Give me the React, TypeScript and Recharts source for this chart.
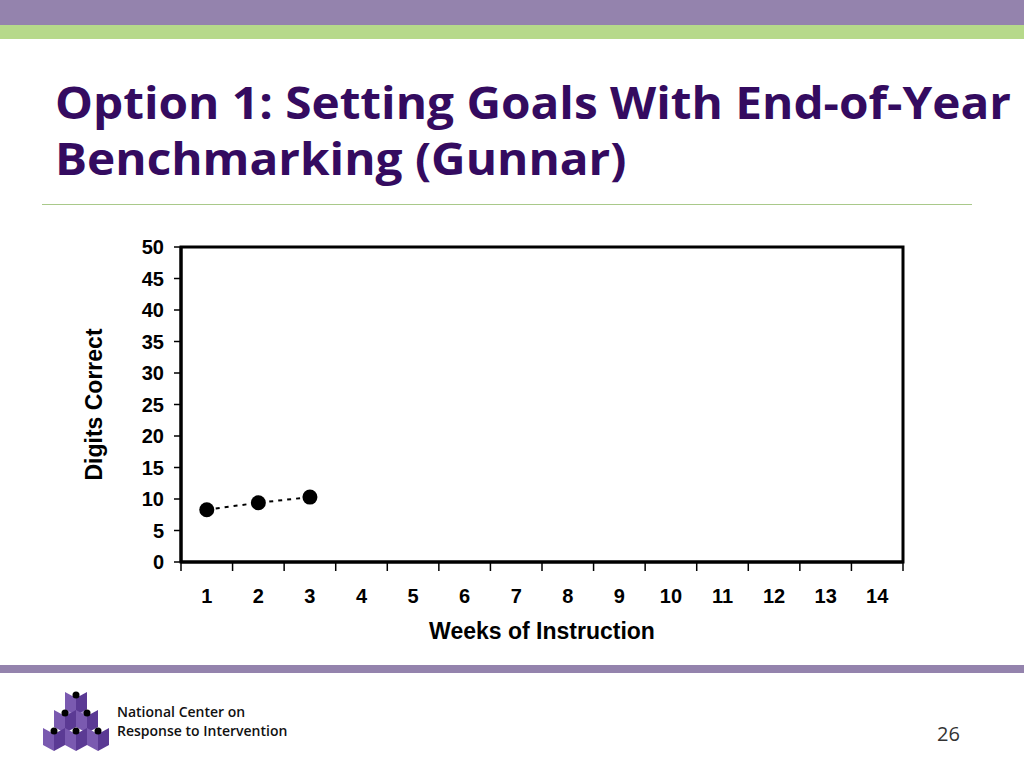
import React from "react";
import {
  LineChart,
  Line,
  XAxis,
  YAxis,
  ReferenceArea,
} from "recharts";

const weeks = [1, 2, 3, 4, 5, 6, 7, 8, 9, 10, 11, 12, 13, 14];
const digitsCorrect = [8.3, 9.4, 10.3];
const yTicks = [0, 5, 10, 15, 20, 25, 30, 35, 40, 45, 50];

const chartData = weeks.map((week, i) => ({
  week,
  digits: i < digitsCorrect.length ? digitsCorrect[i] : null,
}));

// tick marks sit between weeks, labels sit on the weeks
const xTicks = [
  ...weeks.map((w) => w - 0.5),
  ...weeks,
  weeks[weeks.length - 1] + 0.5,
].sort((a, b) => a - b);

const tickFont = "'Liberation Sans', Arial, sans-serif";

const WeekTick = ({ x, y, payload }: any) => {
  const v = payload.value as number;
  if (v % 1 !== 0) {
    return <line x1={x} x2={x} y1={y - 8} y2={y + 1} stroke="#000" strokeWidth={1.5} />;
  }
  return (
    <text
      x={x}
      y={y + 33}
      textAnchor="middle"
      fontFamily={tickFont}
      fontWeight="bold"
      fontSize={20}
      fill="#000"
    >
      {v}
    </text>
  );
};

const Logo = () => {
  const cube = (cx: number, cy: number, key: string) => (
    <g key={key}>
      <polygon
        points={`${cx - 11},${cy - 6} ${cx},${cy} ${cx},${cy + 17} ${cx - 11},${cy + 11}`}
        fill="#7a5ab0"
      />
      <polygon
        points={`${cx + 11},${cy - 6} ${cx},${cy} ${cx},${cy + 17} ${cx + 11},${cy + 11}`}
        fill="#5b3a94"
      />
      <circle cx={cx} cy={cy - 3} r={3.5} fill="#000" />
    </g>
  );
  return (
    <svg width={80} height={70} style={{ position: "absolute", left: 36, top: 688 }}>
      <polygon points="29,12 40,6 51,12 51,24 40,30 29,24" fill="#a48ccc" />
      {cube(40, 10, "a")}
      {cube(29, 28, "b")}
      {cube(51, 28, "c")}
      {cube(18, 46, "d")}
      {cube(40, 46, "e")}
      {cube(62, 46, "f")}
    </svg>
  );
};

export default function App() {
  return (
    <div
      style={{
        position: "absolute",
        left: 0,
        top: 0,
        width: 1024,
        height: 768,
        background: "#fff",
        overflow: "hidden",
      }}
    >
      <div style={{ position: "absolute", left: 0, top: 0, width: 1024, height: 25, background: "#9483ad" }} />
      <div style={{ position: "absolute", left: 0, top: 25, width: 1024, height: 14, background: "#b6d98a" }} />

      <div
        style={{
          position: "absolute",
          left: 55,
          top: 74,
          fontFamily: "'Open Sans', 'Noto Sans', sans-serif",
          fontWeight: 700,
          fontSize: 44,
          lineHeight: "56px",
          color: "#340b60",
          whiteSpace: "nowrap",
          transform: "scaleX(1.085)",
          transformOrigin: "left top",
        }}
      >
        Option 1: Setting Goals With End-of-Year
        <br />
        Benchmarking (Gunnar)
      </div>
      <div style={{ position: "absolute", left: 42, top: 204, width: 930, height: 1, background: "#a9c98a" }} />

      <div style={{ position: "absolute", left: 70, top: 237 }}>
        <LineChart
          width={850}
          height={420}
          data={chartData}
          margin={{ top: 10, right: 17, bottom: 15, left: 0 }}
        >
          <ReferenceArea
            x1={0.5}
            x2={14.5}
            y1={0}
            y2={50}
            fill="none"
            stroke="#000"
            strokeWidth={3}
            ifOverflow="extendDomain"
          />
          <XAxis
            dataKey="week"
            type="number"
            domain={[0.5, 14.5]}
            ticks={xTicks}
            interval={0}
            tickLine={false}
            axisLine={{ stroke: "#000", strokeWidth: 3 }}
            tick={<WeekTick />}
            height={80}
            label={{
              value: "Weeks of Instruction",
              position: "insideBottom",
              offset: 3,
              fill: "#000",
              fontFamily: tickFont,
              fontWeight: "bold",
              fontSize: 23,
            }}
          />
          <YAxis
            type="number"
            domain={[0, 50]}
            ticks={yTicks}
            interval={0}
            width={111}
            axisLine={{ stroke: "#000", strokeWidth: 3 }}
            tickLine={{ stroke: "#000", strokeWidth: 1.5 }}
            tickSize={7}
            tickMargin={10}
            tick={{ fill: "#000", fontFamily: tickFont, fontWeight: "bold", fontSize: 20 }}
            label={{
              value: "Digits Correct",
              angle: -90,
              position: "insideLeft",
              offset: 24,
              style: { textAnchor: "middle" },
              fill: "#000",
              fontFamily: tickFont,
              fontWeight: "bold",
              fontSize: 23,
            }}
          />
          <Line
            dataKey="digits"
            type="linear"
            stroke="#000"
            strokeWidth={2}
            strokeDasharray="4 5"
            dot={{ r: 7.5, fill: "#000", stroke: "#000", strokeWidth: 0 }}
            connectNulls={false}
            isAnimationActive={false}
          />
        </LineChart>
      </div>

      <div style={{ position: "absolute", left: 0, top: 665, width: 1024, height: 8, background: "#9483ad" }} />
      <Logo />
      <div
        style={{
          position: "absolute",
          left: 117,
          top: 702,
          fontFamily: "'Open Sans', 'Noto Sans', sans-serif",
          fontWeight: 600,
          fontSize: 14,
          lineHeight: "19px",
          color: "#111",
        }}
      >
        National Center on
        <br />
        Response to Intervention
      </div>
      <div
        style={{
          position: "absolute",
          left: 937,
          top: 720,
          fontFamily: "'Open Sans', 'Noto Sans', sans-serif",
          fontSize: 20,
          color: "#333",
        }}
      >
        26
      </div>
    </div>
  );
}
